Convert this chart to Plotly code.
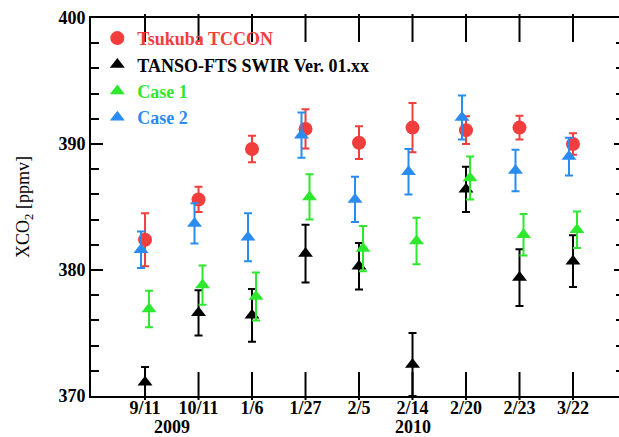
import plotly.graph_objects as go

dates = ["9/11", "10/11", "1/6", "1/27", "2/5", "2/14", "2/20", "2/23", "3/22"]
years = ["2009", "2010"]
year_pos = [1.5, 6]

tccon = [382.4, 385.6, 389.6, 391.2, 390.1, 391.3, 391.1, 391.3, 390.0]
tccon_err = [2.1, 1.0, 1.05, 1.55, 1.3, 1.95, 1.1, 0.95, 0.85]
tanso = [371.1, 376.6, 376.4, 381.3, 380.3, 372.5, 386.4, 379.4, 380.7]
tanso_err = [1.2, 1.8, 2.1, 2.3, 1.85, 2.5, 1.8, 2.25, 2.05]
case1 = [376.9, 378.8, 377.9, 385.8, 381.7, 382.3, 387.3, 382.8, 383.2]
case1_err = [1.45, 1.55, 1.9, 1.8, 1.8, 1.85, 1.7, 1.65, 1.45]
case2 = [381.6, 383.7, 382.6, 390.7, 385.6, 387.8, 392.1, 387.9, 389.0]
case2_err = [1.45, 1.6, 1.9, 1.8, 1.8, 1.8, 1.75, 1.65, 1.5]

RED = "#f23d3d"
BLACK = "#000000"
GREEN = "#2ee82e"
BLUE = "#2a8cf0"
FONT = "Liberation Serif"

xpos = list(range(1, len(dates) + 1))
off = 0.075
XR = [-0.01, 9.86]
YR = [370, 400]
PLOT_H = 378          # plot-area height in px (437 - 18 - 41)
XTICK_LEN = 20

fig = go.Figure()

def add(name, vals, errs, color, symbol, size, dx):
    fig.add_trace(go.Scatter(
        x=[p + dx for p in xpos], y=vals, mode="markers",
        name=f'<span style="color:{color}"><b>{name}</b></span>',
        marker=dict(color=color, symbol=symbol, size=size, line=dict(width=0)),
        error_y=dict(type="data", array=errs, visible=True, color=color,
                     thickness=2, width=4),
    ))

add("Tsukuba TCCON", tccon, tccon_err, RED, "circle", 14, 0)
add("TANSO-FTS SWIR Ver. 01.xx", tanso, tanso_err, BLACK, "triangle-up", 13, 0)
add("Case 1", case1, case1_err, GREEN, "triangle-up", 13, off)
add("Case 2", case2, case2_err, BLUE, "triangle-up", 13, -off)

# inward x tick marks (bottom and top) as vertical line markers
half = (YR[1] - YR[0]) * (XTICK_LEN / 2) / PLOT_H
fig.add_trace(go.Scatter(
    x=xpos + xpos,
    y=[YR[0] + half] * len(xpos) + [YR[1] - half] * len(xpos),
    mode="markers", cliponaxis=False, showlegend=False, hoverinfo="skip",
    marker=dict(symbol="line-ns", size=XTICK_LEN, color="black",
                line=dict(color="black", width=2)),
))

for yr, xp in zip(years, year_pos):
    fig.add_annotation(x=xp, y=0, xref="x", yref="paper", yshift=-31,
                       yanchor="middle", xanchor="center",
                       text=f"<b>{yr}</b>", showarrow=False,
                       font=dict(family=FONT, size=18, color="black"))

fig.update_layout(
    width=619, height=437,
    margin=dict(l=91, r=0, t=18, b=41),
    paper_bgcolor="white", plot_bgcolor="white",
    font=dict(family=FONT, size=18, color="black"),
    showlegend=True,
    legend=dict(x=0.012, y=0.995, xanchor="left", yanchor="top",
                bgcolor="rgba(0,0,0,0)", font=dict(family=FONT, size=18),
                tracegroupgap=0, itemsizing="trace"),
    xaxis=dict(range=XR, tickmode="array", tickvals=xpos,
               ticktext=[f"<b>{d}</b>" for d in dates],
               ticks="", showline=True, linewidth=2, linecolor="black",
               mirror=True, showgrid=False, zeroline=False,
               ticklabelstandoff=-6,
               tickfont=dict(family=FONT, size=18)),
    yaxis=dict(range=YR, tickvals=[370, 380, 390, 400],
               ticktext=["<b>370</b>", "<b>380</b>", "<b>390</b>", "<b>400</b>"],
               ticks="inside", ticklen=12, tickwidth=2, tickcolor="black",
               minor=dict(dtick=2, ticks="inside", ticklen=8, tickwidth=2,
                          tickcolor="black"),
               showline=True, linewidth=2, linecolor="black", mirror=False,
               showgrid=False, zeroline=False,
               tickfont=dict(family=FONT, size=18),
               title=dict(text="XCO<sub>2</sub> [ppmv]", standoff=24,
                          font=dict(family=FONT, size=18, color="black"))),
    yaxis2=dict(range=YR, overlaying="y", side="right", anchor="x",
                tickvals=[370, 380, 390, 400], showticklabels=False,
                ticks="inside", ticklen=5, tickwidth=2, tickcolor="black",
                minor=dict(dtick=2, ticks="inside", ticklen=3, tickwidth=2,
                           tickcolor="black"),
                showline=False, showgrid=False, zeroline=False),
)
# invisible trace to activate the right-side tick axis
fig.add_trace(go.Scatter(x=[None], y=[None], yaxis="y2", showlegend=False,
                         hoverinfo="skip"))

fig.write_html("out.html")
